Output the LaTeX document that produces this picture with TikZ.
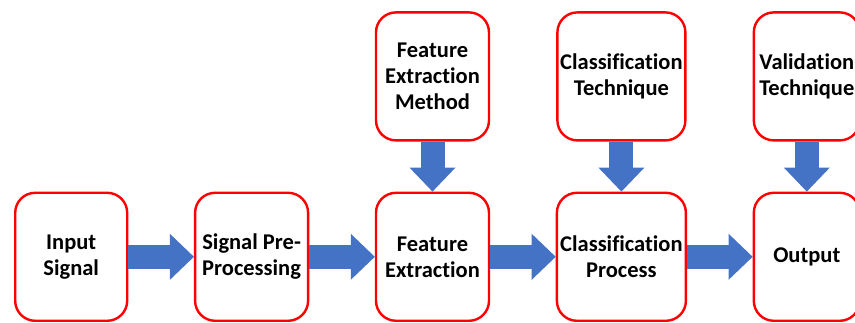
\documentclass[tikz,border=0pt]{standalone}
\usepackage{fontspec}
\setmainfont{Carlito}[Ligatures=CommonOff]
\usepackage{xcolor}
\usetikzlibrary{positioning,arrows.meta}
\definecolor{boxred}{RGB}{255,0,0}
\definecolor{arrowblue}{RGB}{68,114,196}

\begin{document}
\begin{tikzpicture}[x=1pt, y=1pt, node distance=65.5pt,
    stagebox/.style={draw=boxred, line width=2.4pt, rounded corners=20pt, fill=white,
        minimum height=128pt, inner sep=1pt, align=center,
        font=\bfseries\fontsize{22.5}{26}\selectfont},
    flowarrow/.style={draw=arrowblue, line width=24pt,
        -{Triangle[width=46pt, length=24pt, line width=0pt]}}]
    \useasboundingbox (0,0) rectangle (855,323);

    % main chain
    \node [stagebox, minimum width=112pt, anchor=south west] (input) at (14,1) {Input\\Signal};
    \node [stagebox, minimum width=113pt, right=of input] (prep) {Signal Pre-\\Processing};
    \node [stagebox, minimum width=113pt, right=of prep] (feat) {Feature\\Extraction};
    \node [stagebox, minimum width=129pt, right=of feat] (classify) {Classification\\Process};
    \node [stagebox, minimum width=106pt, right=of classify] (output) {Output};

    % inputs from above
    \node [stagebox, minimum width=113pt, above=50pt of feat] (method) {Feature\\Extraction\\Method};
    \node [stagebox, minimum width=128pt, above=50pt of classify] (technique) {Classification\\Technique};
    \node [stagebox, minimum width=106pt, above=50pt of output] (validation) {Validation\\Technique};

    \draw [flowarrow] (input) -- (prep);
    \draw [flowarrow] (prep) -- (feat);
    \draw [flowarrow] (feat) -- (classify);
    \draw [flowarrow] (classify) -- (output);

    \draw [flowarrow] (method) -- (feat);
    \draw [flowarrow] (technique) -- (classify);
    \draw [flowarrow] (validation) -- (output);
\end{tikzpicture}
\end{document}
